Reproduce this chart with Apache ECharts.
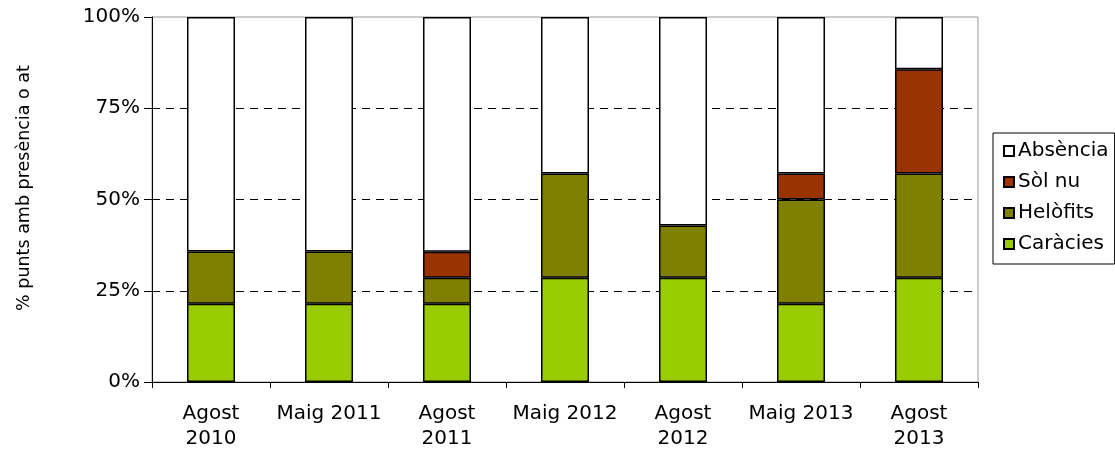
<!DOCTYPE html>
<html>
<head>
<meta charset="utf-8">
<script src="https://cdn.jsdelivr.net/npm/echarts@6/dist/echarts.min.js"></script>
<style>
  html, body { margin: 0; padding: 0; background: #fff; }
  #chart { width: 1115px; height: 451px; }
</style>
</head>
<body>
<div id="chart"></div>
<script>
// Sampling dates
const categories = ['Agost\n2010', 'Maig 2011', 'Agost\n2011', 'Maig 2012', 'Agost\n2012', 'Maig 2013', 'Agost\n2013'];

// Share of sampling points per cover type (%)
const caracies = [21.43, 21.43, 21.43, 28.57, 28.57, 21.43, 28.57];
const helofits = [14.29, 14.29, 7.14, 28.57, 14.29, 28.57, 28.57];
const solNu    = [0, 0, 7.14, 0, 0, 7.14, 28.57];
const absencia = [64.28, 64.28, 64.29, 42.86, 57.14, 42.86, 14.29];

const yTicks = [0, 25, 50, 75, 100];
const yTitle = '% punts amb presència o at';

const FONT = 'DejaVu Sans, Verdana, sans-serif';

const chart = echarts.init(document.getElementById('chart'), null, { renderer: 'canvas' });

function barSeries(name, data, color) {
  return {
    name: name,
    type: 'bar',
    stack: 'total',
    // empty segments are skipped so no outline is drawn for them
    data: data.map(v => (v === 0 ? '-' : v)),
    barWidth: 48,
    z: 3,
    itemStyle: { color: color, borderColor: '#000', borderWidth: 1.5 }
  };
}

chart.setOption({
  animation: false,
  backgroundColor: '#fff',
  textStyle: { fontFamily: FONT },
  grid: {
    left: 152, right: 137, top: 17, bottom: 69,
    show: true, borderColor: '#999', borderWidth: 1, backgroundColor: '#fff'
  },
  graphic: [{
    type: 'text',
    x: 24, y: 188,
    rotation: Math.PI / 2,
    style: {
      text: yTitle,
      font: '17.5px ' + FONT,
      fill: '#000',
      align: 'center',
      verticalAlign: 'middle'
    }
  }],
  legend: {
    orient: 'vertical',
    left: 993, top: 133,
    width: 120,
    padding: [8, 6, 10, 10],
    borderColor: '#000',
    borderWidth: 1,
    backgroundColor: '#fff',
    itemWidth: 10, itemHeight: 10,
    itemGap: 11,
    icon: 'rect',
    data: ['Absència', 'Sòl nu', 'Helòfits', 'Caràcies'],
    textStyle: { fontFamily: FONT, fontSize: 20, color: '#000', lineHeight: 20, padding: [0, 0, 0, -1] }
  },
  xAxis: {
    type: 'category',
    data: categories,
    axisLine: { lineStyle: { color: '#000', width: 1 } },
    axisTick: { show: true, length: 6, lineStyle: { color: '#000' } },
    axisLabel: { color: '#000', fontFamily: FONT, fontSize: 20, lineHeight: 25, margin: 19, interval: 0 },
    splitLine: { show: false }
  },
  yAxis: {
    type: 'value',
    min: yTicks[0], max: yTicks[yTicks.length - 1], interval: 25,
    axisLine: { show: true, lineStyle: { color: '#000', width: 1 } },
    axisTick: { show: true, length: 8, lineStyle: { color: '#000' } },
    axisLabel: { color: '#000', fontFamily: FONT, fontSize: 20, margin: 12, formatter: '{value}%' },
    splitLine: {
      show: true, showMinLine: false, showMaxLine: false,
      lineStyle: { color: '#000', type: [8, 6], width: 1 }
    }
  },
  series: [
    barSeries('Caràcies', caracies, '#99cc00'),
    barSeries('Helòfits', helofits, '#808000'),
    barSeries('Sòl nu', solNu, '#993300'),
    barSeries('Absència', absencia, '#ffffff')
  ]
});
</script>
</body>
</html>
